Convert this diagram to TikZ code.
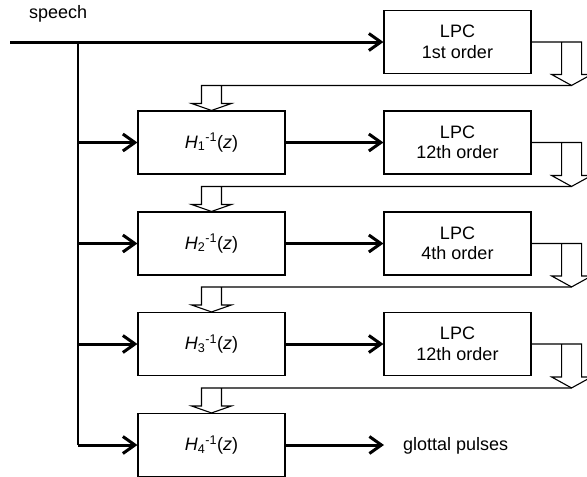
\documentclass[tikz,border=0pt]{standalone}
\usepackage{fontspec}
\setmainfont{Liberation Sans}
\usetikzlibrary{arrows.meta,calc}
\begin{document}
\begin{tikzpicture}[x=1pt,y=-1pt,
  box/.style={draw,line width=1.1pt,minimum width=147pt,minimum height=63pt,inner sep=0pt,align=center,font=\fontsize{18}{20.5}\selectfont},
  lbl/.style={font=\fontsize{18}{20.5}\selectfont,inner sep=0pt},
  bigarrow/.style={line width=3pt,-{Straight Barb[length=12pt,width=17pt]}},
  wire/.style={line width=1.1pt},
  hollow/.style={line width=1.1pt,line join=miter}
]
\useasboundingbox (0,0) rectangle (587,477);

\node[box] (L1) at (457.5,42) {LPC\\1st order};
\node[box] (L2) at (457.5,142.5) {LPC\\12th order};
\node[box] (L3) at (457.5,243.5) {LPC\\4th order};
\node[box] (L4) at (457.5,344) {LPC\\12th order};

\node[box] (H1) at (211.5,142.5) {\textit{H}\textsubscript{1}\textsuperscript{-1}(\textit{z})};
\node[box] (H2) at (211.5,243.5) {\textit{H}\textsubscript{2}\textsuperscript{-1}(\textit{z})};
\node[box] (H3) at (211.5,344) {\textit{H}\textsubscript{3}\textsuperscript{-1}(\textit{z})};
\node[box] (H4) at (211.5,445) {\textit{H}\textsubscript{4}\textsuperscript{-1}(\textit{z})};

\node[lbl,anchor=base west] (sp) at (29,18) {speech};
\coordinate (start) at (10,42);
\draw[bigarrow] (start) -- (L1.west);

\coordinate (tap) at (78,42);
\coordinate (tapend) at (H4.west -| tap);
\draw[wire] (tap) -- (tapend);
\foreach \h in {H1,H2,H3,H4}{
  \draw[bigarrow] (\h.west -| tap) -- (\h.west);
}
\draw[bigarrow] (H1.east) -- (L2.west);
\draw[bigarrow] (H2.east) -- (L3.west);
\draw[bigarrow] (H3.east) -- (L4.west);
\coordinate (gp) at (384,445);
\draw[bigarrow] (H4.east) -- (gp);
\node[lbl,anchor=base west] (gpl) at (403,450) {glottal pulses};

\foreach \a/\b in {L1/H1,L2/H2,L3/H3,L4/H4}{
  \coordinate (rr) at ($(\a.east)+(40,0)$);
  \coordinate (ry) at ($(\b.north)+(0,-25)$);
  \coordinate (r) at (rr |- ry);
  \draw[hollow] (\a.east) -- ($(\a.east)+(50,0)$) -- ($(r)+(10,-11)$) -- ($(r)+(20,-11)$)
     -- (r) -- ($(r)+(-20,-11)$) -- ($(r)+(-10,-11)$) -- ($(\a.east)+(30,0)$);
  \draw[hollow] (r) -- ($(\b.north)+(-10,-25)$) -- ($(\b.north)+(-10,-7)$) -- ($(\b.north)+(-20,-7)$)
     -- (\b.north) -- ($(\b.north)+(20,-7)$) -- ($(\b.north)+(10,-7)$) -- ($(\b.north)+(10,-25)$);
}
\end{tikzpicture}
\end{document}
